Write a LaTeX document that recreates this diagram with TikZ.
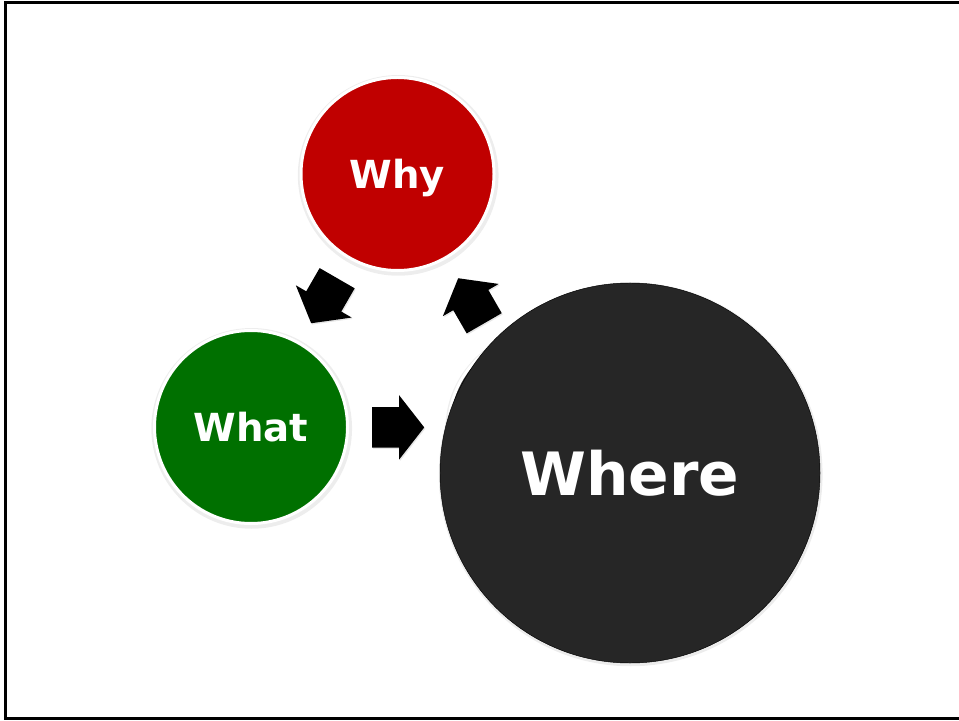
\documentclass[tikz,border=0pt]{standalone}
\usepackage{fontspec}
\setmainfont{DejaVu Sans}
\usetikzlibrary{shapes.arrows,shadows,calc}

\definecolor{whyred}{RGB}{192,0,0}
\definecolor{whatgreen}{RGB}{0,112,0}
\definecolor{wheregray}{RGB}{38,38,38}

\begin{document}
\begin{tikzpicture}[x=0.03cm, y=0.03cm,
	bubble/.style={circle, draw=white, line width=0.9mm, minimum size=57.9mm, inner sep=0pt,
		text=white, text depth=0pt, font=\bfseries\fontsize{33}{38}\selectfont,
		drop shadow={shadow scale=1.04, shadow xshift=0.2mm, shadow yshift=-0.4mm, opacity=0.14}},
	flow/.style={single arrow, fill=black, draw=none, inner xsep=0pt, inner ysep=6mm,
		minimum height=15.6mm, minimum width=19.2mm, anchor=tail,
		single arrow head extend=3.6mm, single arrow tip angle=104,
		drop shadow={shadow xshift=0.3mm, shadow yshift=-0.4mm, opacity=0.2}}]
	\useasboundingbox (0,0) rectangle (959,720);

	% Frame
	\draw[line width=0.9mm] (965,717.5) -- (5.5,717.5) -- (5.5,1.5) -- (965,1.5);

	% Circles
	\node[bubble, fill=whyred] (why) at (397.5,546) {Why};
	\node[bubble, fill=whatgreen] (what) at (251,293) {What};
	\node[bubble, fill=wheregray] (back) at (545,292) {};
	\node[circle, fill=wheregray, draw=black, thin, minimum size=114mm, inner sep=0pt,
		text=white, text depth=0pt, font=\bfseries\fontsize{51}{60}\selectfont,
		drop shadow={shadow scale=1.01, shadow xshift=0.2mm, shadow yshift=-0.4mm, opacity=0.15}]
		(where) at (630,247) {Where};

	% Arrows (tail placed 26px before the midpoint)
	\node[flow, rotate=240] (a1) at ($(why)!0.5!(what)!0.78cm!(why)$) {};
	\node[flow] (a2) at ($(what)!0.5!(back)!0.78cm!(what)$) {};
	\node[flow, rotate=120] (a3) at ($(back)!0.5!(why)!0.78cm!(back)$) {};

\end{tikzpicture}
\end{document}
